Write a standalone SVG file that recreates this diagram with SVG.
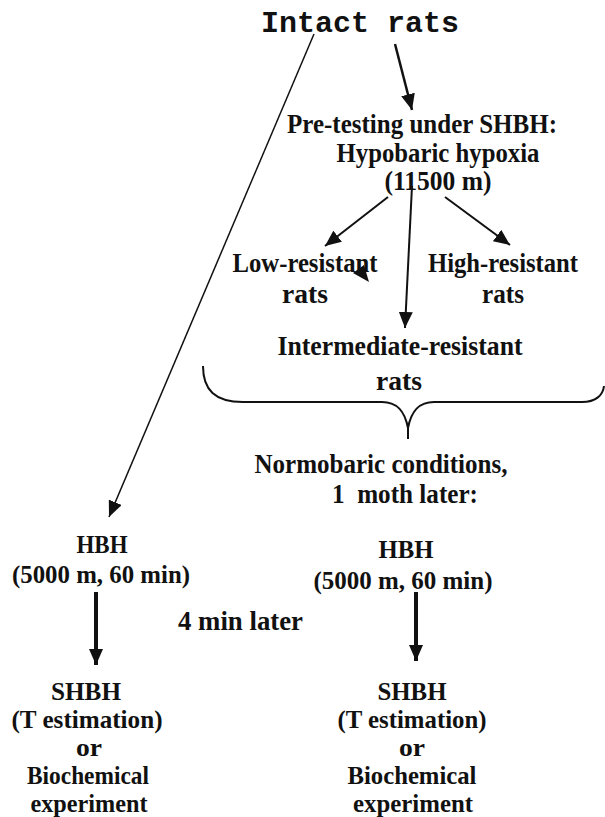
<svg xmlns="http://www.w3.org/2000/svg" width="605" height="817" viewBox="0 0 605 817">
<style>
.t{font-family:"Liberation Serif","Times New Roman",serif;font-weight:bold;font-size:27px;fill:#111;text-anchor:middle}
.s{font-size:26px}
.m{font-family:"Liberation Mono","Courier New",monospace;font-weight:bold;font-size:30px;fill:#111;text-anchor:middle}
.ln{fill:none;stroke:#111}
</style>
<defs>
<marker id="ah" markerUnits="userSpaceOnUse" viewBox="0 0 16 14" refX="16" refY="7" markerWidth="16" markerHeight="14" orient="auto">
<path d="M0,0 L16,7 L0,14 z" fill="#111"/>
</marker>
</defs>
<rect width="605" height="817" fill="#fff"/>
<g id="intact"><text class="m" x="360" y="32">Intact rats</text></g>
<g id="pretest">
<text class="t" x="422" y="133" textLength="270" lengthAdjust="spacingAndGlyphs">Pre-testing under SHBH:</text>
<text class="t" x="438" y="162" textLength="203" lengthAdjust="spacingAndGlyphs">Hypobaric hypoxia</text>
<text class="t" x="438" y="190" textLength="107" lengthAdjust="spacingAndGlyphs">(11500 m)</text>
</g>
<g id="low">
<text class="t" x="305" y="272" textLength="145" lengthAdjust="spacingAndGlyphs">Low-resistant</text>
<text class="t" x="305" y="303" textLength="46" lengthAdjust="spacingAndGlyphs">rats</text>
</g>
<g id="high">
<text class="t" x="503" y="272" textLength="150" lengthAdjust="spacingAndGlyphs">High-resistant</text>
<text class="t" x="503" y="303" textLength="42" lengthAdjust="spacingAndGlyphs">rats</text>
</g>
<g id="inter">
<text class="t" x="400" y="355" textLength="245" lengthAdjust="spacingAndGlyphs">Intermediate-resistant</text>
<text class="t" x="399" y="390" textLength="46" lengthAdjust="spacingAndGlyphs">rats</text>
</g>
<g id="normo">
<text class="t" x="381" y="473" textLength="253" lengthAdjust="spacingAndGlyphs">Normobaric conditions,</text>
<text class="t" x="332" y="503" style="text-anchor:start;white-space:pre" textLength="146" lengthAdjust="spacingAndGlyphs">1  moth later:</text>
</g>
<g id="hbh-left">
<text class="t s" x="102" y="553" textLength="51" lengthAdjust="spacingAndGlyphs">HBH</text>
<text class="t s" x="101" y="583" textLength="178" lengthAdjust="spacingAndGlyphs">(5000 m, 60 min)</text>
</g>
<g id="hbh-right">
<text class="t s" x="406" y="558" textLength="55" lengthAdjust="spacingAndGlyphs">HBH</text>
<text class="t s" x="403" y="589" textLength="179" lengthAdjust="spacingAndGlyphs">(5000 m, 60 min)</text>
</g>
<g id="later"><text class="t" x="178" y="630" style="text-anchor:start" textLength="125" lengthAdjust="spacingAndGlyphs">4 min later</text></g>
<g id="shbh-left">
<text class="t s" x="86" y="700" textLength="70" lengthAdjust="spacingAndGlyphs">SHBH</text>
<text class="t s" x="87" y="728" textLength="151" lengthAdjust="spacingAndGlyphs">(T estimation)</text>
<text class="t s" x="89" y="756" textLength="26" lengthAdjust="spacingAndGlyphs">or</text>
<text class="t s" x="88" y="784" textLength="122" lengthAdjust="spacingAndGlyphs">Biochemical</text>
<text class="t s" x="89" y="812" textLength="117" lengthAdjust="spacingAndGlyphs">experiment</text>
</g>
<g id="shbh-right">
<text class="t s" x="412" y="700" textLength="69" lengthAdjust="spacingAndGlyphs">SHBH</text>
<text class="t s" x="412" y="728" textLength="149" lengthAdjust="spacingAndGlyphs">(T estimation)</text>
<text class="t s" x="412" y="756" textLength="26" lengthAdjust="spacingAndGlyphs">or</text>
<text class="t s" x="412" y="784" textLength="129" lengthAdjust="spacingAndGlyphs">Biochemical</text>
<text class="t s" x="413" y="812" textLength="120" lengthAdjust="spacingAndGlyphs">experiment</text>
</g>
<g id="connectors">
<line class="ln" x1="314" y1="34" x2="109" y2="517" stroke-width="1.5" marker-end="url(#ah)"/>
<line class="ln" x1="395" y1="44" x2="412" y2="110" stroke-width="2.5" marker-end="url(#ah)"/>
<line class="ln" x1="388" y1="197" x2="325" y2="246" stroke-width="2" marker-end="url(#ah)"/>
<line class="ln" x1="412" y1="186" x2="405" y2="328" stroke-width="2" marker-end="url(#ah)"/>
<line class="ln" x1="445" y1="197" x2="510" y2="245" stroke-width="2" marker-end="url(#ah)"/>
<polygon points="353,273 364,265 369,282" fill="#111"/>
<path class="ln" stroke-width="2" d="M203,366 C203,390 215,402 243,402 L382,402 C398,402 405,412 408,428 L408,439 M408,428 C411,412 418,402 434,402 L582,402 C596,402 603,395 604,386"/>
<line class="ln" x1="96" y1="592" x2="96" y2="665" stroke-width="4" marker-end="url(#ah)"/>
<line class="ln" x1="416" y1="592" x2="416" y2="661" stroke-width="4" marker-end="url(#ah)"/>
</g>
</svg>
